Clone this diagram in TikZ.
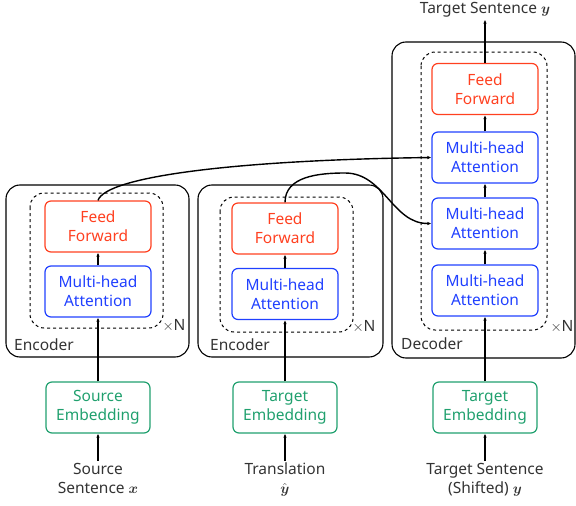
\documentclass[tikz,border=0pt]{standalone}
\usepackage{amsmath, amssymb}
\usepackage{fontspec}
\setmainfont{Noto Sans}
\usepackage{xcolor}
\usepackage{tikz}
\usetikzlibrary{arrows.meta}

\definecolor{ffred}{RGB}{255,64,32}
\definecolor{attblue}{RGB}{32,64,255}
\definecolor{embgreen}{RGB}{32,160,110}
\definecolor{txtgray}{RGB}{51,51,51}

\tikzset{
  blk/.style={rounded corners=6pt, line width=1.2pt, minimum width=106pt,
    minimum height=51pt, align=center, inner sep=0pt},
  ffbox/.style={blk, draw=ffred, text=ffred},
  attbox/.style={blk, draw=attblue, text=attblue},
  embbox/.style={blk, draw=embgreen, text=embgreen, minimum width=104pt},
  layerbox/.style={draw, rounded corners=14pt, line width=1.1pt},
  stackbox/.style={draw, dashed, rounded corners=14pt, line width=1pt},
  lbl/.style={text=txtgray, align=center, inner sep=2pt},
  conn/.style={-{Latex[length=4pt,width=3.5pt]}, line width=1.4pt},
}

\begin{document}
\begin{tikzpicture}[x=1pt, y=-1pt, every node/.style={font=\fontsize{15.5}{19}\selectfont}]
			\useasboundingbox (0,0) rectangle (576,506);
			% 编码器 1
			\draw[layerbox] (6,185) rectangle (189,357);
			\draw[stackbox] (30,193) rectangle (163,328);
			\node[ffbox] (ffa) at (98,226.5) {Feed\\Forward};
			\node[attbox] (atta) at (98,291.5) {Multi-head\\Attention};
			\node[lbl] (na) at (174,326) {$\times$N};
			\node[lbl, anchor=west] (enca) at (12,345) {Encoder};
			% 编码器 2
			\draw[layerbox] (198,185) rectangle (383,357);
			\draw[stackbox] (220,197) rectangle (353,332);
			\node[ffbox] (ffb) at (285,228.5) {Feed\\Forward};
			\node[attbox] (attb) at (285,294) {Multi-head\\Attention};
			\node[lbl] (nb) at (364,327) {$\times$N};
			\node[lbl, anchor=west] (encb) at (208,345) {Encoder};
			% 解码器
			\draw[layerbox] (392,42) rectangle (575,358);
			\draw[stackbox] (421,52) rectangle (547,330);
			\node[ffbox] (ffd) at (485,89) {Feed\\Forward};
			\node[attbox] (attd) at (485,157.5) {Multi-head\\Attention};
			\node[attbox] (atte) at (485,223.5) {Multi-head\\Attention};
			\node[attbox] (attf) at (485,290.5) {Multi-head\\Attention};
			\node[lbl] (nd) at (562,327) {$\times$N};
			\node[lbl, anchor=west] (decl) at (399,344) {Decoder};
			% 词嵌入
			\node[embbox] (emba) at (98,407.5) {Source\\Embedding};
			\node[embbox] (embb) at (285,407.5) {Target\\Embedding};
			\node[embbox] (embc) at (485,407.5) {Target\\Embedding};
			% 输入输出
			\node[lbl] (ina) at (98,478) {Source\\Sentence $\boldsymbol{x}$};
			\node[lbl] (inb) at (285,480) {Translation\\$\hat{\boldsymbol{y}}$};
			\node[lbl] (inc) at (485,480) {Target Sentence\\(Shifted) $\boldsymbol{y}$};
			\node[lbl] (out) at (485,10) {Target Sentence $\boldsymbol{y}$};
			% 连线
			\draw[conn] (ina) -- (emba);
			\draw[conn] (inb) -- (embb);
			\draw[conn] (inc) -- (embc);
			\draw[conn] (emba) -- (atta);
			\draw[conn] (atta) -- (ffa);
			\draw[conn] (embb) -- (attb);
			\draw[conn] (attb) -- (ffb);
			\draw[conn] (embc) -- (attf);
			\draw[conn] (attf) -- (atte);
			\draw[conn] (atte) -- (attd);
			\draw[conn] (attd) -- (ffd);
			\draw[conn] (ffd) -- (out);
			\draw[conn] (ffa.north) .. controls (106,176) and (240,160) .. (attd.west);
			\draw[conn] (ffb.north) to[out=90, in=180] (345,173) to[out=0, in=180] (atte.west);
		\end{tikzpicture}
\end{document}
